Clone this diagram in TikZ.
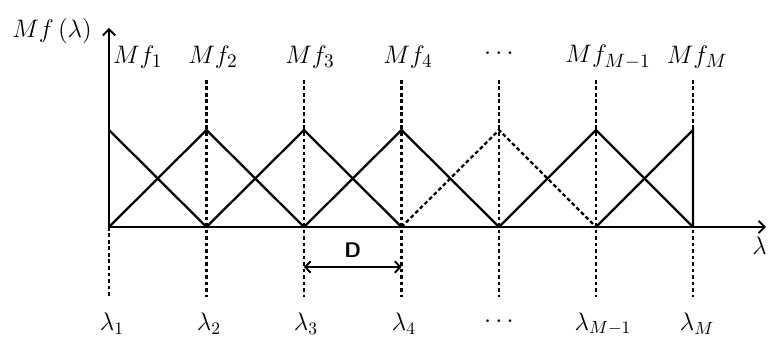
\documentclass[tikz,border=0pt]{standalone}
\usepackage{tikz}
\usetikzlibrary{arrows.meta,positioning}

\begin{document}
\begin{tikzpicture}[x=0.02cm,y=-0.02cm,
  axis/.style={-{Straight Barb[length=3.5pt,width=7pt]},line width=1.1pt},
  tri/.style={line width=1.3pt,line join=miter},
  guide/.style={line width=1.3pt,dash pattern=on 2.2pt off 1.5pt},
  lab/.style={font=\fontsize{15}{17}\selectfont,inner sep=1pt},
  sub/.style={font=\fontsize{14}{16}\selectfont,inner sep=1pt},
  dim/.style={{Straight Barb[length=3pt,width=6.5pt]}-{Straight Barb[length=3pt,width=6.5pt]},line width=1.1pt}
]
\useasboundingbox (0,0) rectangle (769,337);
% base, peak, top and bottom end of each guide line
\foreach \i/\x in {1/109,2/206.5,3/304,4/401.5,5/499,6/596,7/693}{
  \coordinate (b\i) at (\x,227);
  \coordinate (p\i) at (\x,130);
  \coordinate (t\i) at (\x,80);
  \coordinate (e\i) at (\x,297);
}
\coordinate (ytop) at (109,28);
\coordinate (xend) at (766,227);
% guide lines
\draw[guide] (b1) -- (e1);
\foreach \i in {2,...,7}{
  \draw[guide] (t\i) -- (e\i);
}
% axes
\draw[axis] (b1) -- (ytop);
\draw[axis] (b1) -- (xend);
% membership functions
\draw[tri] (p1) -- (b2);
\draw[tri] (b1) -- (p2) -- (b3);
\draw[tri] (b2) -- (p3) -- (b4);
\draw[tri] (b3) -- (p4) -- (b5);
\draw[guide] (b4) -- (p5) -- (b6);
\draw[tri] (b5) -- (p6) -- (b7);
\draw[tri] (b6) -- (p7) -- (b7);
% axis labels
\node[lab] (ylab) at (52,31) {$Mf\,(\lambda)$};
\node[sub,anchor=east] (xlab) at (769,246) {$\lambda$};
% top labels
\node[lab,anchor=west] (mf1) at (111,57) {$Mf_{1}$};
\node[lab] (mf2) at (213,57) {$Mf_{2}$};
\node[lab] (mf3) at (310,57) {$Mf_{3}$};
\node[lab] (mf4) at (408,57) {$Mf_{4}$};
\node[lab] (mfd) at (499,54) {$\cdots$};
\node[lab] (mfm1) at (608,57) {$Mf_{M-1}$};
\node[lab] (mfm) at (697,57) {$Mf_{M}$};
% bottom labels
\node[sub] (l1) at (112,324) {$\lambda_{1}$};
\node[sub] (l2) at (209,324) {$\lambda_{2}$};
\node[sub] (l3) at (306,324) {$\lambda_{3}$};
\node[sub] (l4) at (404,324) {$\lambda_{4}$};
\node[sub] (ld) at (499,322) {$\cdots$};
\node[sub] (lm1) at (603,324) {$\lambda_{M-1}$};
\node[sub] (lm) at (697,324) {$\lambda_{M}$};
% spacing D
\coordinate (d1) at (304,267);
\coordinate (d2) at (401.5,267);
\draw[dim] (d1) -- node[above=1.5pt,font=\sffamily\bfseries\fontsize{12}{14}\selectfont] (dlab) {D} (d2);
\end{tikzpicture}
\end{document}
